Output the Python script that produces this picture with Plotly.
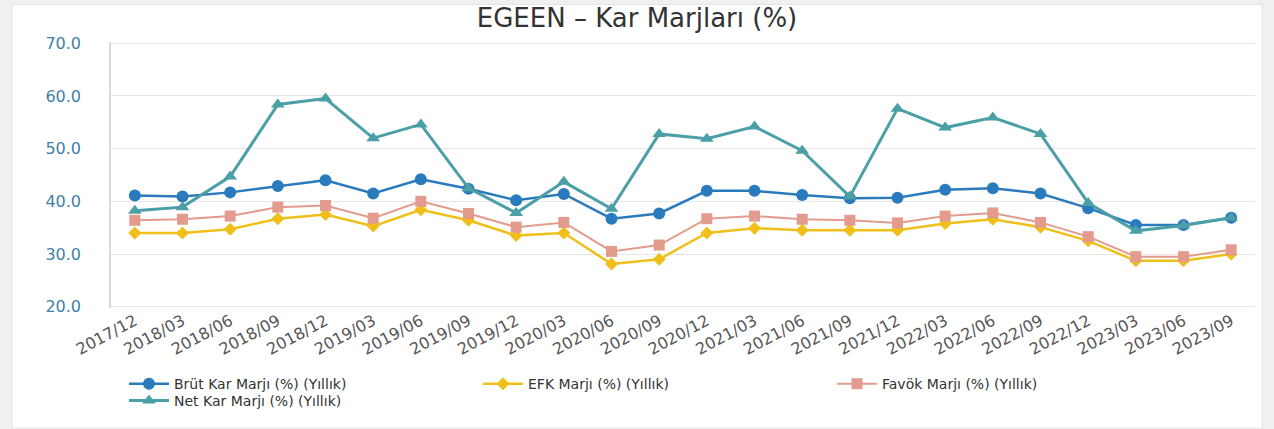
import plotly.graph_objects as go

periods = ["2017/12", "2018/03", "2018/06", "2018/09", "2018/12", "2019/03", "2019/06", "2019/09",
           "2019/12", "2020/03", "2020/06", "2020/09", "2020/12", "2021/03", "2021/06", "2021/09",
           "2021/12", "2022/03", "2022/06", "2022/09", "2022/12", "2023/03", "2023/06", "2023/09"]

brut = [41.1, 40.9, 41.7, 42.9, 44.0, 41.5, 44.2, 42.4, 40.2, 41.4, 36.7, 37.7,
        42.0, 42.0, 41.2, 40.6, 40.7, 42.2, 42.5, 41.5, 38.7, 35.5, 35.5, 36.9]
efk = [34.0, 34.0, 34.7, 36.7, 37.5, 35.3, 38.4, 36.4, 33.5, 34.0, 28.1, 29.0,
       34.0, 34.9, 34.5, 34.5, 34.5, 35.8, 36.6, 35.1, 32.5, 28.7, 28.7, 30.0]
favok = [36.4, 36.6, 37.2, 38.9, 39.2, 36.8, 40.0, 37.7, 35.1, 36.0, 30.5, 31.7,
         36.7, 37.2, 36.6, 36.4, 35.9, 37.2, 37.8, 36.0, 33.3, 29.5, 29.5, 30.8]
net = [38.2, 38.9, 44.7, 58.4, 59.5, 52.0, 54.6, 42.5, 37.8, 43.7, 38.6, 52.8,
       51.9, 54.2, 49.6, 40.9, 57.6, 54.0, 55.9, 52.8, 39.7, 34.4, 35.4, 36.9]

series_names = ["Brüt Kar Marjı (%) (Yıllık)", "EFK Marjı (%) (Yıllık)",
                "Favök Marjı (%) (Yıllık)", "Net Kar Marjı (%) (Yıllık)"]
y_ticks = [20, 30, 40, 50, 60, 70]
y_tick_text = ["20.0", "30.0", "40.0", "50.0", "60.0", "70.0"]

W, H = 1274, 429
L, R, T, B = 111, 19, 42, 117
pw, ph = W - L - R, H - T - B

fig = go.Figure()
styles = [
    (brut, "#2a7bbd", "circle", 12, 2.5, "legend"),
    (efk, "#f0bf1a", "diamond", 10, 2.5, "legend"),
    (favok, "#e29b8c", "square", 11, 2, "legend"),
    (net, "#4b9fa6", "triangle-up", 12, 3, "legend2"),
]
for name, (vals, col, sym, ms, lw, lg) in zip(series_names, styles):
    fig.add_trace(go.Scatter(
        x=periods, y=vals, name=name, mode="lines+markers",
        line=dict(color=col, width=lw),
        marker=dict(color=col, symbol=sym, size=ms),
        legend=lg,
    ))

def px_x(px):
    return (px - L) / pw

def px_y(py):
    return (H - B - py) / ph

fig.add_shape(type="rect", xref="paper", yref="paper",
              x0=px_x(12), x1=px_x(1262), y0=px_y(H + 5), y1=px_y(4),
              fillcolor="white", line=dict(color="#e4e4e4", width=1), layer="below")

legend_common = dict(orientation="h", xanchor="left", yanchor="top",
                     entrywidth=299, entrywidthmode="pixels", itemwidth=40,
                     font=dict(family="DejaVu Sans", size=14, color="#333"),
                     bgcolor="rgba(0,0,0,0)")

fig.update_layout(
    width=W, height=H,
    margin=dict(l=L, r=R, t=T, b=B),
    paper_bgcolor="#f0f0f0",
    plot_bgcolor="white",
    font=dict(family="DejaVu Sans", color="#444"),
    title=dict(text="EGEEN – Kar Marjları (%)", x=0.5, xanchor="center",
               xref="container", y=1 - 18 / H, yref="container", yanchor="middle",
               font=dict(family="DejaVu Sans", size=26, color="#333")),
    showlegend=True,
    legend=dict(x=px_x(124), y=px_y(373), **legend_common),
    legend2=dict(x=px_x(124), y=px_y(390), **legend_common),
)
fig.update_xaxes(type="category", range=[-0.5, 23.5], showgrid=False, showline=False,
                 tickangle=-28, tickfont=dict(family="DejaVu Sans", size=16, color="#555"),
                 ticks="", zeroline=False)
fig.update_yaxes(range=[19.75, 70.25], tickvals=y_ticks, ticktext=y_tick_text,
                 showgrid=True, gridcolor="#e6e6e6", gridwidth=1,
                 showline=True, linecolor="#d5dbe2", linewidth=1.5,
                 tickfont=dict(family="DejaVu Sans", size=16, color="#3f7fa8"),
                 ticks="", ticklabelstandoff=25, zeroline=False)

fig.write_html("out.html", config={"displayModeBar": False},
               post_script="document.body.style.margin='0px';document.body.style.overflow='hidden';")
